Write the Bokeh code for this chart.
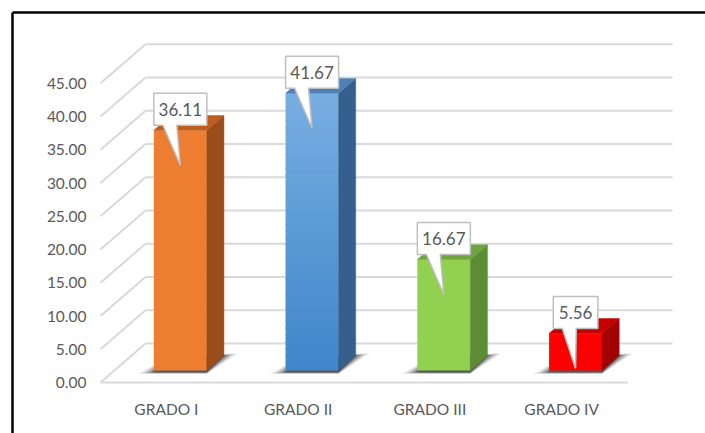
import numpy as np
from bokeh.plotting import figure
from bokeh.models import Range1d
from bokeh.core.properties import value
from bokeh.embed import file_html
from bokeh.resources import INLINE

# ---- data -------------------------------------------------------------
categories = ["GRADO I", "GRADO II", "GRADO III", "GRADO IV"]
percentages = [36.11, 41.67, 16.67, 5.56]
value_labels = ["36.11", "41.67", "16.67", "5.56"]
tick_values = [0, 5, 10, 15, 20, 25, 30, 35, 40, 45]
tick_labels = ["0.00", "5.00", "10.00", "15.00", "20.00",
               "25.00", "30.00", "35.00", "40.00", "45.00"]

# ---- colours ------------------------------------------------------------
front_top = ["#ED7D31", "#78AEE1", "#92D050", "#FF0000"]
front_bottom = ["#ED7D31", "#3E86CA", "#92D050", "#FF0000"]
side_colors = ["#9A4D1B", "#355F8D", "#5E8C35", "#A30000"]
top_colors = ["#BE5E1E", "#4F80B6", "#71A33F", "#C40000"]
TEXT = "#595959"
GRID = "#D9D9D9"
FONT = value("Lato")

# ---- canvas / projection ------------------------------------------------
W, H = 705, 433
PX0, UX = 100.0, 131.75      # left end of the floor front edge, px per category
PY0, UY = 382.0, 6.65        # zero line of the front plane, px per value unit


def xpx(px):
    return (px - PX0) / UX


def ypx(px):
    return (PY0 - px) / UY


def lx(px):
    return px / UX


def ly(px):
    return px / UY


DX, DY = lx(45), ly(39)      # full depth of the floor (oblique projection)
F0, F1 = 0.31, 0.69          # front / back depth of the columns
HW = lx(26.5)                # half column width
N = len(categories)

p = figure(width=W, height=H, output_backend="svg", toolbar_location=None,
           x_range=Range1d(xpx(0), xpx(W)), y_range=Range1d(ypx(H), ypx(0)),
           min_border=0, min_border_left=0, min_border_right=0,
           min_border_top=0, min_border_bottom=0)
p.axis.visible = False
p.grid.visible = False
p.outline_line_color = None
p.background_fill_color = "white"
p.border_fill_color = "white"

# ---- walls and floor ----------------------------------------------------
x0s, y0s, x1s, y1s = [], [], [], []
for v in tick_values:
    # side wall diagonal
    x0s.append(0); y0s.append(v); x1s.append(DX); y1s.append(v + DY)
    # back wall gridline
    x0s.append(DX); y0s.append(v + DY); x1s.append(N + DX); y1s.append(v + DY)
# floor front edge
x0s.append(0); y0s.append(0); x1s.append(N); y1s.append(0)
p.segment(x0=x0s, y0=y0s, x1=x1s, y1=y1s, line_color=GRID, line_width=2)

# ---- soft base shadows ----------------------------------------------------
for i in range(N):
    c = i + 0.5
    for grow, alpha in [(16, 0.08), (12, 0.12), (8, 0.18), (4, 0.25), (1, 0.3)]:
        xs = [c - HW + F0 * DX - lx(grow * 1.0), c + HW + F0 * DX,
              c + HW + F1 * DX + lx(grow * 0.9), c - HW + F1 * DX]
        ys = [F0 * DY - ly(2 + grow * 0.1), F0 * DY - ly(2 + grow * 0.1),
              F1 * DY + ly(grow * 0.15), F1 * DY]
        p.patch(xs, ys, fill_color="black", fill_alpha=alpha, line_color=None)


def mix(c1, c2, t):
    a = np.array([int(c1[k:k + 2], 16) for k in (1, 3, 5)], float)
    b = np.array([int(c2[k:k + 2], 16) for k in (1, 3, 5)], float)
    m = a + (b - a) * t
    return "#%02x%02x%02x" % tuple(int(round(q)) for q in m)


# ---- columns ------------------------------------------------------------
for i, v in enumerate(percentages):
    c = i + 0.5
    left = c - HW + F0 * DX
    right = c + HW + F0 * DX
    base = F0 * DY
    # front face with vertical gradient (strips overlap to avoid seams)
    nstrip = 40 if front_top[i] != front_bottom[i] else 1
    edges = np.linspace(base, base + v, nstrip + 1)
    cols = [mix(front_bottom[i], front_top[i], (k + 0.5) / nstrip) for k in range(nstrip)]
    tops = np.minimum(edges[1:] + ly(1.5), base + v)
    p.quad(left=left, right=right, bottom=edges[:-1], top=tops,
           fill_color=cols, line_color=None)
    # right side face
    sx = [right, c + HW + F1 * DX, c + HW + F1 * DX, right]
    sy = [base, F1 * DY, v + F1 * DY, v + base]
    p.patch(sx, sy, fill_color=side_colors[i], line_color=side_colors[i], line_width=0.5)
    # top face
    tx = [left, right, c + HW + F1 * DX, c - HW + F1 * DX]
    ty = [v + base, v + base, v + F1 * DY, v + F1 * DY]
    p.patch(tx, ty, fill_color=top_colors[i], line_color=top_colors[i], line_width=0.5)

# ---- callout data labels ------------------------------------------------
for i, (v, lab) in enumerate(zip(percentages, value_labels)):
    c = i + 0.5 + F0 * DX
    top = v + F0 * DY
    bw = lx(11 + 8.4 * len(lab))
    L, R = c - bw / 2, c + bw / 2
    B = top + ly(5)
    T = B + ly(32)
    tip_y = top - ly(35)
    xs = [L, L + lx(9), c, L + lx(23), R, R, L]
    ys = [B, B, tip_y, B, B, T, T]
    p.patch(xs, ys, fill_color="white", line_color="#BFBFBF", line_width=1.5)
    p.text(x=[c], y=[(B + T) / 2], text=[lab], text_font=FONT,
           text_font_size="17px", text_color=TEXT,
           text_align="center", text_baseline="middle")

# ---- value axis labels --------------------------------------------------
p.text(x=[xpx(86)] * len(tick_values), y=tick_values, text=tick_labels,
       text_font=FONT, text_font_size="15.5px", text_color=TEXT,
       text_align="right", text_baseline="middle")

# ---- category labels ----------------------------------------------------
p.text(x=[i + 0.5 for i in range(N)], y=[ypx(408)] * N, text=categories,
       text_font=FONT, text_font_size="15.5px", text_color=TEXT,
       text_align="center", text_baseline="middle")

# ---- chart frame (top and left edges) -----------------------------------
p.line([xpx(12), xpx(W + 5)], [ypx(12), ypx(12)], line_color="black", line_width=2.5)
p.line([xpx(12), xpx(12)], [ypx(12), ypx(H + 5)], line_color="black", line_width=2.5)

open("out.html", "w").write(file_html(p, INLINE))
